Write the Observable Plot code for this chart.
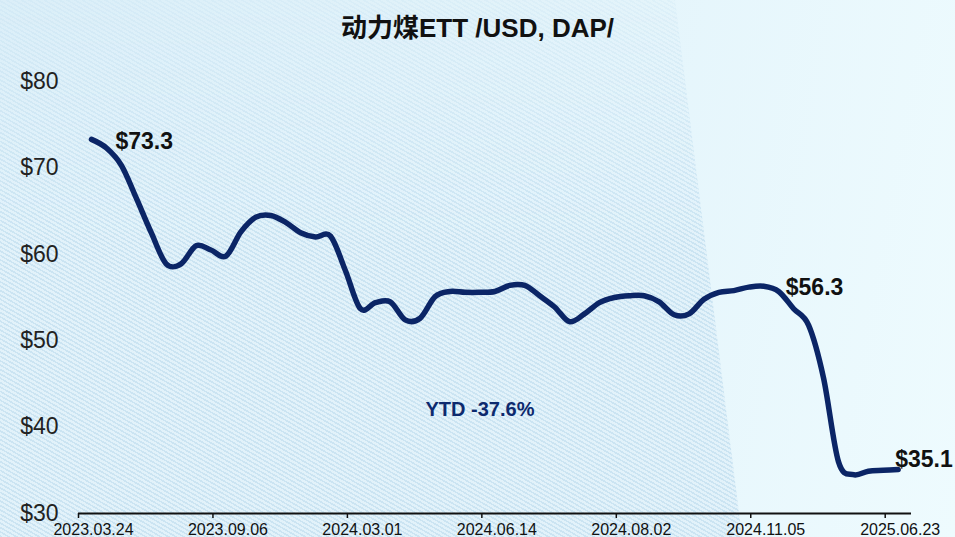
<!DOCTYPE html>
<html><head><meta charset="utf-8">
<script src="https://cdn.jsdelivr.net/npm/d3@7"></script>
<script src="https://cdn.jsdelivr.net/npm/@observablehq/plot@0.6"></script>
<style>
html,body{margin:0;padding:0;}
#wrap{position:relative;width:955px;height:537px;overflow:hidden;
  background:linear-gradient(100deg,#d8edf8 0%,#e3f4fb 55%,#eefbfe 100%);
  font-family:"Liberation Sans",Arial,sans-serif;}
#hatch{position:absolute;left:0;top:0;width:955px;height:537px;
  clip-path:polygon(0 0,675px 0,742px 537px,0 537px);
  background:repeating-linear-gradient(30deg,#cbe4f2 0px,#cbe4f2 1.6px,#e2f2fa 1.6px,#e2f2fa 3.8px);
  -webkit-mask-image:linear-gradient(to bottom,rgba(0,0,0,.3),#000 45%);
  mask-image:linear-gradient(to bottom,rgba(0,0,0,.3),#000 45%);}
#title{position:absolute;top:13px;left:0;width:955px;text-align:center;font-weight:bold;
  font-size:26px;line-height:30px;color:#111;font-family:"Liberation Sans","Noto Sans CJK SC",sans-serif;}
#chart{position:absolute;left:0;top:0;}
</style>
</head><body>
<div id="wrap">
  <div id="hatch"></div>
  <div id="title"></div>
  <div id="chart"></div>
</div>
<script>
const titleText = "动力煤ETT /USD, DAP/";
const values = [
  73.3, 72.3, 70.3, 66.5, 62.5, 58.9, 58.9, 61.0, 60.5, 59.8,
  62.6, 64.3, 64.5, 63.7, 62.5, 62.0, 62.1, 58.1, 53.7, 54.4,
  54.5, 52.4, 52.6, 55.1, 55.7, 55.6, 55.6, 55.7, 56.4, 56.4,
  55.2, 53.9, 52.2, 53.1, 54.4, 55.0, 55.2, 55.2, 54.5, 53.0,
  53.1, 54.8, 55.6, 55.8, 56.2, 56.3, 55.7, 53.7, 51.8, 45.7,
  36.0, 34.5, 34.9, 35.0, 35.1
];
const tickIndex = [0, 9, 18, 27, 36, 45, 54];
const tickLabels = ["2023.03.24","2023.09.06","2024.03.01","2024.06.14","2024.08.02","2024.11.05","2025.06.23"];
const yTicks = [30, 40, 50, 60, 70, 80];
const startIndex = 0, peakIndex = 45, endIndex = 54;
const ytdText = "YTD -37.6%";

document.getElementById("title").textContent = titleText;
const data = values.map((v, i) => ({i, v}));
const money = d => "$" + d.v.toFixed(1);
const labelFont = {fontSize: 23, fontWeight: "bold", fill: "#111", textAnchor: "start"};

const chart = Plot.plot({
  width: 955, height: 537,
  marginLeft: 78, marginRight: 44, marginTop: 81, marginBottom: 24,
  style: {background: "transparent", fontFamily: "Liberation Sans, Arial, sans-serif", overflow: "visible"},
  x: {domain: [-0.87, 54.89]},
  y: {domain: [30, 80]},
  marks: [
    Plot.axisY({ticks: yTicks, tickFormat: d => "$" + d, tickSize: 0, tickPadding: 20, fontSize: 23, color: "#222", label: null}),
    Plot.axisX({ticks: tickIndex, tickFormat: d => tickLabels[tickIndex.indexOf(d)], tickSize: 0, tickPadding: 10, fontSize: 16, dx: 2, label: null, color: "#111"}),
    Plot.axisX({ticks: tickIndex, tickFormat: () => "", tickSize: 5, dx: -13, label: null, stroke: "#111", strokeWidth: 1.5}),
    Plot.ruleY([30], {stroke: "#111", strokeWidth: 2}),
    Plot.line(data, {x: "i", y: "v", stroke: "#0b2566", strokeWidth: 5.5, curve: "cardinal", tension: 0, strokeLinecap: "round", strokeLinejoin: "round"}),
    Plot.text([data[startIndex]], {x: "i", y: "v", text: money, dx: 24, dy: 2, ...labelFont}),
    Plot.text([data[peakIndex]], {x: "i", y: "v", text: money, dx: 22, dy: 1, ...labelFont}),
    Plot.text([data[endIndex]], {x: "i", y: "v", text: money, dx: -3, dy: -10, ...labelFont}),
    Plot.text([ytdText], {frameAnchor: "middle", text: d => d, dx: -15, dy: 112, fontSize: 20, fontWeight: "bold", fill: "#0d2a6e"})
  ]
});
document.getElementById("chart").appendChild(chart);
</script>
</body></html>
